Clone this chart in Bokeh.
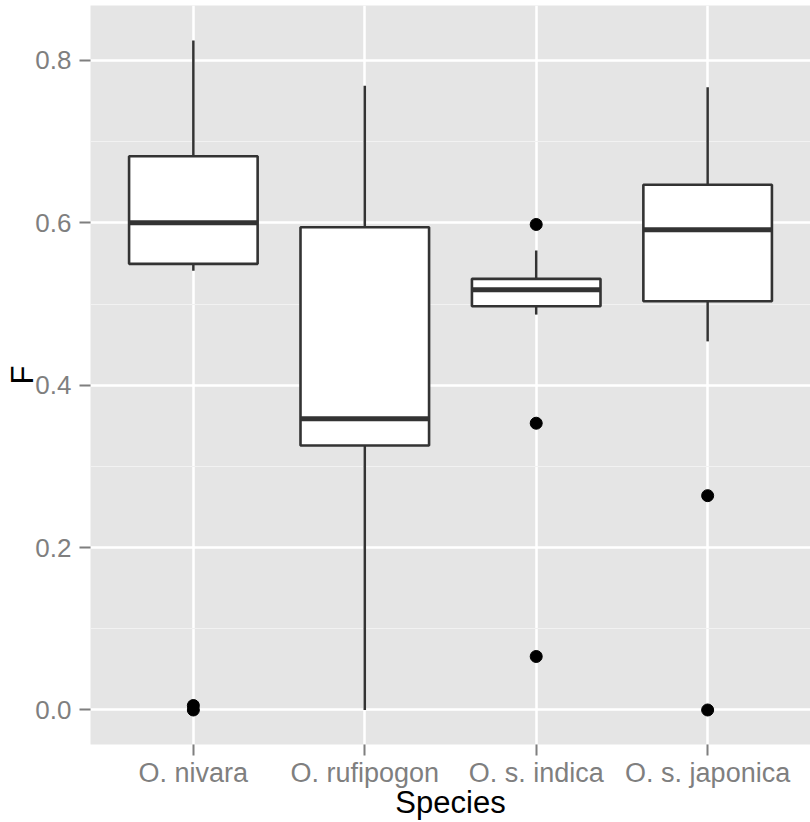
from bokeh.plotting import figure
from bokeh.models import Range1d, FixedTicker
from bokeh.embed import file_html
from bokeh.resources import INLINE

# ---- data ----
species = ["O. nivara", "O. rufipogon", "O. s. indica", "O. s. japonica"]
lower_whisker = [0.541, 0.0, 0.487, 0.454]
q1 = [0.5495, 0.3257, 0.4973, 0.5035]
median = [0.600, 0.3586, 0.5175, 0.5914]
q3 = [0.682, 0.5946, 0.531, 0.647]
upper_whisker = [0.8245, 0.769, 0.5658, 0.767]
outlier_species = ["O. nivara", "O. nivara", "O. s. indica", "O. s. indica", "O. s. indica",
                   "O. s. japonica", "O. s. japonica"]
outlier_values = [0.0055, 0.0, 0.598, 0.3532, 0.0659, 0.264, 0.0]
y_ticks = [0.0, 0.2, 0.4, 0.6, 0.8]
y_minor = [0.1, 0.3, 0.5, 0.7]
x_title = "Species"
y_title = "F"

pos = {s: i + 1 for i, s in enumerate(species)}
xs = [pos[s] for s in species]
ox = [pos[s] for s in outlier_species]
half = 0.375

LINE = "#333333"
GREY = "#7F7F7F"
FONT = "Liberation Sans"

p = figure(width=810, height=822, output_backend="svg", toolbar_location=None,
           x_range=Range1d(0.4, 4.6), y_range=Range1d(-0.0425, 0.8677),
           min_border_left=90, min_border_right=0, min_border_top=5, min_border_bottom=78)

p.background_fill_color = "#E5E5E5"
p.border_fill_color = "white"
p.outline_line_color = None

# grid
p.xgrid.ticker = FixedTicker(ticks=xs)
p.ygrid.ticker = FixedTicker(ticks=y_ticks, minor_ticks=y_minor)
p.xgrid.grid_line_color = "white"
p.ygrid.grid_line_color = "white"
p.xgrid.grid_line_width = 2.5
p.ygrid.grid_line_width = 2.5
p.ygrid.minor_grid_line_color = "#F2F2F2"
p.ygrid.minor_grid_line_width = 1.2

# axes
p.xaxis.ticker = FixedTicker(ticks=xs)
p.xaxis.major_label_overrides = {pos[s]: s for s in species}
p.yaxis.ticker = FixedTicker(ticks=y_ticks, minor_ticks=y_minor)
p.yaxis.major_label_overrides = {t: f"{t:.1f}" for t in y_ticks}
for ax in (p.xaxis, p.yaxis):
    ax.axis_line_color = None
    ax.major_tick_line_color = GREY
    ax.major_tick_line_width = 2
    ax.major_tick_out = 11
    ax.major_tick_in = 0
    ax.minor_tick_line_color = None
    ax.major_label_text_color = GREY
    ax.major_label_text_font = FONT
    ax.axis_label_text_font = FONT
    ax.axis_label_text_font_size = "31px"
    ax.axis_label_text_font_style = "normal"
    ax.axis_label_text_color = "black"
p.xaxis.major_label_text_font_size = "27px"
p.yaxis.major_label_text_font_size = "26px"
p.xaxis.axis_label = x_title
p.yaxis.axis_label = y_title
p.xaxis.major_label_standoff = 2
p.yaxis.major_label_standoff = 8
p.xaxis.axis_label_standoff = -6
p.yaxis.axis_label_standoff = -8

# whiskers
p.segment(x0=xs, y0=q3, x1=xs, y1=upper_whisker, line_color=LINE, line_width=2.5)
p.segment(x0=xs, y0=q1, x1=xs, y1=lower_whisker, line_color=LINE, line_width=2.5)
# boxes
p.vbar(x=xs, width=2 * half, bottom=q1, top=q3, fill_color="white",
       line_color=LINE, line_width=2.6)
# medians
p.segment(x0=[x - half for x in xs], y0=median, x1=[x + half for x in xs], y1=median,
          line_color=LINE, line_width=5)
# outliers
p.scatter(x=ox, y=outlier_values, size=12, fill_color="black", line_color="black")

open("out.html", "w").write(file_html(p, INLINE))
